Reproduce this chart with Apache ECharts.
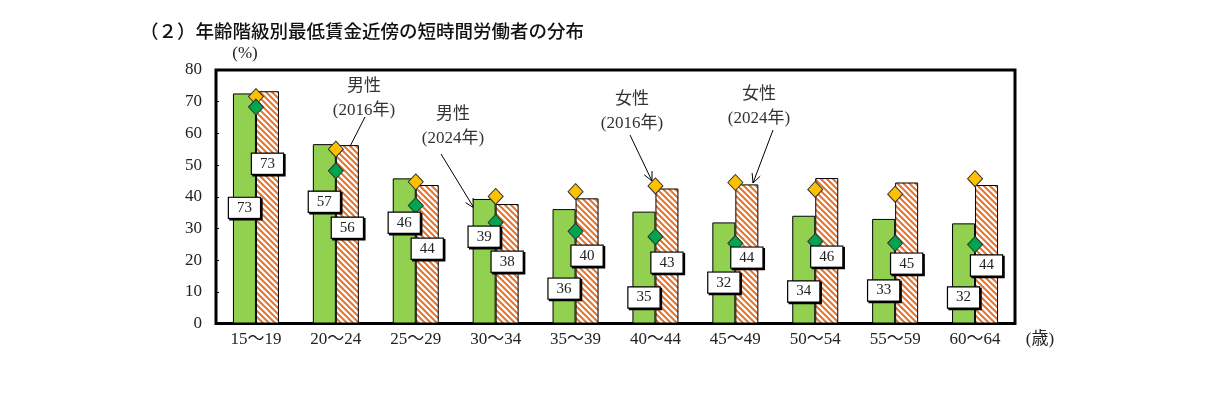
<!DOCTYPE html>
<html>
<head>
<meta charset="utf-8">
<script src="https://cdn.jsdelivr.net/npm/echarts@6/dist/echarts.min.js"></script>
<style>
  html, body { margin: 0; padding: 0; background: #fff; }
  #main { width: 1222px; height: 415px; }
</style>
</head>
<body>
<div id="main"></div>
<script>
// 年齢階級
const ageGroups = ['15～19', '20～24', '25～29', '30～34', '35～39', '40～44', '45～49', '50～54', '55～59', '60～64'];
// 棒グラフ（2024年）
const male2024 = [72.6, 56.6, 45.8, 39.3, 36.1, 35.3, 31.9, 34.0, 33.0, 31.6];
const female2024 = [73.3, 56.3, 43.7, 37.7, 39.5, 42.6, 43.9, 45.9, 44.5, 43.7];
// ひし形（2016年）
const male2016 = [68.3, 48.2, 37.2, 31.9, 29.1, 27.4, 25.3, 25.9, 25.4, 24.9];
const female2016 = [71.6, 55.0, 44.7, 40.1, 41.6, 43.4, 44.5, 42.3, 40.8, 45.7];
const yTicks = [0, 10, 20, 30, 40, 50, 60, 70, 80];

// ラベルを置く高さ（レイアウト用）
const maleLabelAt = [36.5, 38.4, 31.8, 27.4, 11.0, 8.2, 12.9, 10.1, 10.4, 8.2];
const femaleLabelAt = [50.4, 30.2, 23.6, 19.5, 21.4, 19.2, 20.8, 21.1, 18.9, 18.3];

const serif = "'Liberation Serif', 'Noto Sans CJK JP', serif";

// 斜線パターン
function stripes() {
    const s = 6;
    const c = document.createElement('canvas');
    c.width = s; c.height = s;
    const ctx = c.getContext('2d');
    ctx.fillStyle = '#fff';
    ctx.fillRect(0, 0, s, s);
    ctx.strokeStyle = '#E8732A';
    ctx.lineWidth = 2;
    ctx.beginPath();
    ctx.moveTo(-1, -1); ctx.lineTo(s + 1, s + 1);
    ctx.moveTo(-1, s - 1); ctx.lineTo(1, s + 1);
    ctx.moveTo(s - 1, -1); ctx.lineTo(s + 1, 1);
    ctx.stroke();
    return c;
}

// 矢印
function arrow(x1, y1, x2, y2) {
    const a = Math.atan2(y2 - y1, x2 - x1);
    const L = 10, w = 0.45;
    return [{
        type: 'line',
        shape: { x1: x1, y1: y1, x2: x2, y2: y2 },
        style: { stroke: '#000', lineWidth: 1 }
    }, {
        type: 'polyline',
        shape: { points: [
            [x2 - L * Math.cos(a - w), y2 - L * Math.sin(a - w)],
            [x2, y2],
            [x2 - L * Math.cos(a + w), y2 - L * Math.sin(a + w)]
        ] },
        style: { stroke: '#000', lineWidth: 1, fill: null }
    }];
}

function note(x, y, line1, line2) {
    return [{
        type: 'text', x: x, y: y,
        style: { text: line1, font: '17px ' + serif, fill: '#333', align: 'center', verticalAlign: 'middle' }
    }, {
        type: 'text', x: x, y: y + 24,
        style: { text: line2, font: '17px ' + serif, fill: '#333', align: 'center', verticalAlign: 'middle' }
    }];
}

function labelItems(values, at) {
    return values.map((v, i) => ({
        value: v,
        label: { position: ['50%', ((1 - at[i] / v) * 100) + '%'] }
    }));
}

const labelStyle = {
    show: true,
    align: 'center',
    verticalAlign: 'middle',
    formatter: p => Math.round(p.value),
    fontFamily: serif,
    fontSize: 15,
    color: '#222',
    backgroundColor: '#fff',
    borderColor: '#000',
    borderWidth: 1.2,
    padding: [3, 8, 2, 8],
    shadowColor: '#000',
    shadowOffsetX: 1.5,
    shadowOffsetY: 1.5,
    shadowBlur: 0
};

const chart = echarts.init(document.getElementById('main'));

const graphics = [].concat(
    note(364, 87, '男性', '(2016年)'),
    arrow(365, 117, 342, 162),
    note(453, 115, '男性', '(2024年)'),
    arrow(441, 154, 474, 208),
    note(632, 100, '女性', '(2016年)'),
    arrow(630, 135, 652, 181),
    note(759, 95, '女性', '(2024年)'),
    arrow(773, 130, 753, 183),
    [{
        type: 'text', x: 140, y: 31,
        style: { text: '（２）年齢階級別最低賃金近傍の短時間労働者の分布', font: '500 18.5px "Noto Sans CJK JP"', fill: '#111', verticalAlign: 'middle' }
    }, {
        type: 'text', x: 245, y: 54,
        style: { text: '(%)', font: '17px ' + serif, fill: '#222', align: 'center', verticalAlign: 'middle' }
    }, {
        type: 'text', x: 1040, y: 340,
        style: { text: '(歳)', font: '17px ' + serif, fill: '#222', align: 'center', verticalAlign: 'middle' }
    }]
);

chart.setOption({
    animation: false,
    backgroundColor: '#fff',
    grid: {
        left: 216, right: 207, top: 70, bottom: 91.5,
        show: true, borderColor: '#000', borderWidth: 3, backgroundColor: 'transparent'
    },
    xAxis: [{
        type: 'category',
        data: ageGroups,
        axisLine: { show: false },
        axisTick: { show: false },
        axisLabel: { fontFamily: serif, fontSize: 17, color: '#222', margin: 8 }
    }, {
        type: 'category',
        data: ageGroups,
        show: false
    }],
    yAxis: {
        type: 'value',
        min: yTicks[0],
        max: yTicks[yTicks.length - 1],
        interval: 10,
        axisLine: { show: false },
        axisTick: { show: true, inside: true, length: 3, lineStyle: { color: '#000' } },
        splitLine: { show: false },
        axisLabel: { fontFamily: serif, fontSize: 17, color: '#222', margin: 14 }
    },
    graphic: graphics,
    series: [{
        name: '男性(2024年)',
        type: 'bar',
        data: male2024,
        barWidth: 23,
        barGap: 0,
        z: 2,
        itemStyle: { color: '#92D050', borderColor: '#000', borderWidth: 1 }
    }, {
        name: '女性(2024年)',
        type: 'bar',
        data: female2024,
        barWidth: 23,
        barGap: 0,
        z: 2,
        itemStyle: { color: { image: stripes(), repeat: 'repeat' }, borderColor: '#000', borderWidth: 1 }
    }, {
        name: '女性(2016年)',
        type: 'scatter',
        data: female2016,
        symbol: 'diamond',
        symbolSize: [15, 16],
        z: 3,
        itemStyle: { color: '#FFC000', borderColor: '#333', borderWidth: 1, opacity: 1 }
    }, {
        name: '男性(2016年)',
        type: 'scatter',
        data: male2016,
        symbol: 'diamond',
        symbolSize: [15, 16],
        z: 3,
        itemStyle: { color: '#00A550', borderColor: '#333', borderWidth: 1, opacity: 1 }
    }, {
        // ラベル用（透明な棒）
        type: 'bar',
        xAxisIndex: 1,
        data: labelItems(male2024, maleLabelAt),
        barWidth: 23,
        barGap: 0,
        z: 4,
        silent: true,
        itemStyle: { color: 'transparent', borderWidth: 0 },
        label: labelStyle
    }, {
        type: 'bar',
        xAxisIndex: 1,
        data: labelItems(female2024, femaleLabelAt),
        barWidth: 23,
        barGap: 0,
        z: 4,
        silent: true,
        itemStyle: { color: 'transparent', borderWidth: 0 },
        label: labelStyle
    }]
});
</script>
</body>
</html>
